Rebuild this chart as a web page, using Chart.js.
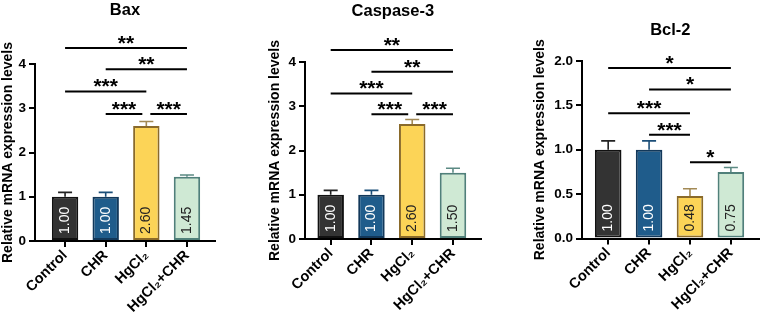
<!DOCTYPE html>
<html>
<head>
<meta charset="utf-8">
<script src="https://cdn.jsdelivr.net/npm/chart.js@4"></script>
<style>
  body { margin: 0; background: #fff; }
  .panel { position: absolute; top: 0; }
</style>
</head>
<body>
<canvas id="bax" class="panel" width="254" height="317" style="left:0px"></canvas>
<canvas id="casp3" class="panel" width="254" height="317" style="left:254px"></canvas>
<canvas id="bcl2" class="panel" width="254" height="317" style="left:508px"></canvas>
<script>
// Data
const categories = ['Control', 'CHR', 'HgCl₂', 'HgCl₂+CHR'];

const baxValues = [1.00, 1.00, 2.60, 1.45];
const baxErrors = [0.10, 0.10, 0.10, 0.04];
const casp3Values = [1.00, 1.00, 2.60, 1.50];
const casp3Errors = [0.10, 0.10, 0.10, 0.10];
const bcl2Values = [1.00, 1.00, 0.48, 0.75];
const bcl2Errors = [0.10, 0.10, 0.08, 0.05];

// significance: [from, to, level, stars]
const baxSig = [[0, 3, 4.36, '**'], [1, 3, 3.88, '**'], [0, 2, 3.38, '***'], [1, 2, 2.87, '***'], [2, 3, 2.87, '***']];
const casp3Sig = [[0, 3, 4.27, '**'], [1, 3, 3.78, '**'], [0, 2, 3.29, '***'], [1, 2, 2.82, '***'], [2, 3, 2.82, '***']];
const bcl2Sig = [[0, 3, 1.92, '*'], [1, 3, 1.68, '*'], [0, 2, 1.41, '***'], [1, 2, 1.17, '***'], [2, 3, 0.86, '*']];

// Styles
const fillColors = ['#333333', '#1f5c8b', '#fcd457', '#cfe9d4'];
const borderColors = ['#111111', '#12385a', '#8a6a2a', '#50807a'];
const errorColors = ['#222222', '#1b4e78', '#a38a55', '#5c8a84'];
const labelColors = ['#ffffff', '#ffffff', '#222222', '#222222'];
const FONT = "'Liberation Sans', Arial, sans-serif";

const panels = [
  { id: 'bax', title: 'Bax', values: baxValues, errors: baxErrors, sig: baxSig, yMax: 4, yStep: 1, digits: 0,
    axisX: 35, rightX: 215, topY: 64, bottomY: 241, xMin: -0.74, xMax: 3.69, titleY: 10, yTitlePad: 0 },
  { id: 'casp3', title: 'Caspase-3', values: casp3Values, errors: casp3Errors, sig: casp3Sig, yMax: 4, yStep: 1, digits: 0,
    axisX: 51, rightX: 226.7, topY: 62, bottomY: 239, xMin: -0.63, xMax: 3.68, titleY: 11.5, yTitlePad: 13 },
  { id: 'bcl2', title: 'Bcl-2', values: bcl2Values, errors: bcl2Errors, sig: bcl2Sig, yMax: 2, yStep: 0.5, digits: 1,
    axisX: 74, rightX: 250.7, topY: 61, bottomY: 238.5, xMin: -0.64, xMax: 3.68, titleY: 30, yTitlePad: 24 }
];

const overlay = {
  id: 'overlay',
  afterDatasetsDraw(chart, args, opts) {
    const ctx = chart.ctx;
    const meta = chart.getDatasetMeta(0);
    const y = chart.scales.y;
    ctx.save();
    // error bars
    meta.data.forEach((bar, i) => {
      const top = y.getPixelForValue(opts.values[i] + opts.errors[i]);
      ctx.strokeStyle = errorColors[i];
      ctx.lineWidth = 1.6;
      ctx.beginPath();
      ctx.moveTo(bar.x, bar.y);
      ctx.lineTo(bar.x, top);
      ctx.moveTo(bar.x - 7, top);
      ctx.lineTo(bar.x + 7, top);
      ctx.stroke();
    });
    // value labels
    ctx.font = '14px ' + FONT;
    meta.data.forEach((bar, i) => {
      ctx.save();
      ctx.translate(bar.x, y.getPixelForValue(0) - 7);
      ctx.rotate(-Math.PI / 2);
      ctx.textAlign = 'left';
      ctx.textBaseline = 'middle';
      ctx.fillStyle = labelColors[i];
      ctx.fillText(opts.values[i].toFixed(2), 0, 0);
      ctx.restore();
    });
    ctx.restore();
  },
  afterDraw(chart, args, opts) {
    const ctx = chart.ctx;
    const x = chart.scales.x;
    const y = chart.scales.y;
    ctx.save();
    ctx.fillStyle = '#000';
    ctx.strokeStyle = '#000';
    ctx.lineWidth = 2;
    opts.sig.forEach(([a, b, level, stars]) => {
      // leave a small gap where two brackets meet on the same level
      const touchL = opts.sig.some(s => s[2] === level && s[1] === a);
      const touchR = opts.sig.some(s => s[2] === level && s[0] === b);
      const x1 = x.getPixelForValue(a) + (touchL ? 4 : 0);
      const x2 = x.getPixelForValue(b) - (touchR ? 4 : 0);
      const py = y.getPixelForValue(level);
      ctx.beginPath();
      ctx.moveTo(x1, py);
      ctx.lineTo(x2, py);
      ctx.stroke();
      ctx.font = 'bold 21px ' + FONT;
      ctx.textAlign = 'center';
      ctx.textBaseline = 'alphabetic';
      ctx.fillText(stars, (x1 + x2) / 2, py + 2);
    });
    // panel title
    ctx.font = 'bold 16.5px ' + FONT;
    ctx.textAlign = 'center';
    ctx.textBaseline = 'middle';
    ctx.fillText(opts.title, (chart.chartArea.left + chart.chartArea.right) / 2, opts.titleY);
    ctx.restore();
  }
};

panels.forEach(p => {
  new Chart(document.getElementById(p.id), {
    type: 'bar',
    data: {
      datasets: [{
        data: p.values.map((v, i) => ({ x: i, y: v })),
        backgroundColor: fillColors,
        borderColor: borderColors,
        borderWidth: 2,
        borderSkipped: false,
        categoryPercentage: 1,
        barPercentage: 0.65
      }]
    },
    options: {
      responsive: false,
      animation: false,
      layout: { padding: { left: 0, top: p.topY, right: 254 - p.rightX, bottom: 0 } },
      plugins: {
        legend: { display: false },
        tooltip: { enabled: false },
        overlay: { values: p.values, errors: p.errors, sig: p.sig, title: p.title, titleY: p.titleY }
      },
      scales: {
        x: {
          type: 'linear',
          offset: false,
          min: p.xMin,
          max: p.xMax,
          afterBuildTicks: s => { s.ticks = categories.map((c, i) => ({ value: i })); },
          afterFit: s => { s.height = 317 - p.bottomY; },
          border: { color: '#000', width: 2 },
          grid: { offset: false, drawOnChartArea: false, drawTicks: true, tickLength: 6, color: '#000', lineWidth: 2 },
          ticks: {
            autoSkip: false,
            minRotation: 45,
            maxRotation: 45,
            padding: 0,
            color: '#000',
            font: { family: FONT, size: 14.5, weight: 'bold' },
            callback: v => categories[v]
          }
        },
        y: {
          min: 0,
          max: p.yMax,
          afterFit: s => { s.width = p.axisX; },
          border: { color: '#000', width: 2 },
          grid: { drawOnChartArea: false, drawTicks: true, tickLength: 6, color: '#000', lineWidth: 2 },
          ticks: {
            stepSize: p.yStep,
            padding: 3,
            color: '#000',
            font: { family: FONT, size: 13.5, weight: 'bold' },
            callback: v => v.toFixed(p.digits)
          },
          title: {
            display: true,
            text: 'Relative mRNA expression levels',
            color: '#000',
            padding: { top: p.yTitlePad, bottom: 0 },
            font: { family: FONT, size: 14, weight: 'bold' }
          }
        }
      }
    },
    plugins: [overlay]
  });
});
</script>
</body>
</html>
